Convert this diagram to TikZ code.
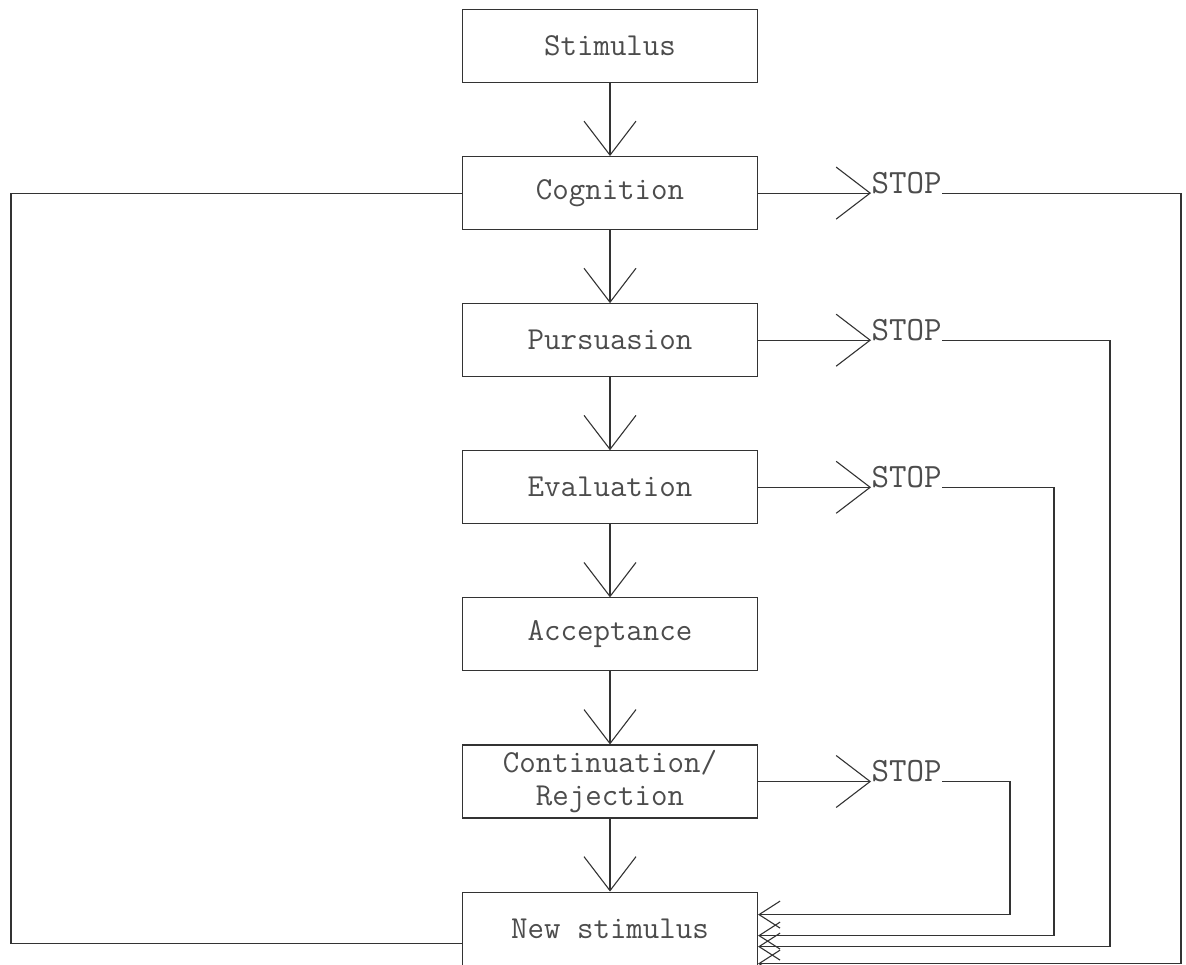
\documentclass[tikz,border=0pt]{standalone}
\usepackage{tikz}
\usetikzlibrary{positioning, arrows.meta}

\begin{document}
\begin{tikzpicture}[x=1pt, y=-1pt, line width=1.1pt, draw=black!80,
		stage/.style={draw, minimum width=295pt, minimum height=73pt, inner sep=1pt, align=center, text=black!70, font=\ttfamily\fontsize{32}{33}\selectfont},
		stoptext/.style={inner sep=0pt, text=black!70, font=\ttfamily\fontsize{34}{36}\selectfont},
		bigbarb/.style={-{Straight Barb[length=34pt, width=52pt, line width=1.1pt]}},
		smallbarb/.style={-{Straight Barb[length=21pt, width=27pt, line width=1.1pt]}},
		node distance=73pt]
			\useasboundingbox (0,0) rectangle (1186,964);
			
			\node[stage] (stim) at (610,46) {Stimulus};
			\node[stage, below=of stim] (cog) {Cognition};
			\node[stage, below=of cog] (purs) {Pursuasion};
			\node[stage, below=of purs] (eval) {Evaluation};
			\node[stage, below=of eval] (acc) {Acceptance};
			\node[stage, below=of acc] (cont) {Continuation/\\Rejection};
			\node[stage, below=of cont] (newst) {New stimulus};
			
			\draw[bigbarb] (stim) -- (cog);
			\draw[bigbarb] (cog) -- (purs);
			\draw[bigbarb] (purs) -- (eval);
			\draw[bigbarb] (eval) -- (acc);
			\draw[bigbarb] (acc) -- (cont);
			\draw[bigbarb] (cont) -- (newst);
			
			\node[stoptext, anchor=base west] (stop1) at ([xshift=113pt]cog.east) {STOP};
			\node[stoptext, anchor=base west] (stop2) at ([xshift=113pt]purs.east) {STOP};
			\node[stoptext, anchor=base west] (stop3) at ([xshift=113pt]eval.east) {STOP};
			\node[stoptext, anchor=base west] (stop4) at ([xshift=113pt]cont.east) {STOP};
			
			\draw[bigbarb] (cog.east) -- (stop1.base west);
			\draw[bigbarb] (purs.east) -- (stop2.base west);
			\draw[bigbarb] (eval.east) -- (stop3.base west);
			\draw[bigbarb] (cont.east) -- (stop4.base west);
			
			\coordinate (r1) at (1181,0);
			\coordinate (r2) at (1110,0);
			\coordinate (r3) at (1054,0);
			\coordinate (r4) at (1010,0);
			\coordinate (in1) at ([yshift=-35pt]newst.east);
			\coordinate (in2) at ([yshift=-18pt]newst.east);
			\coordinate (in3) at ([yshift=-7pt]newst.east);
			\coordinate (in4) at ([yshift=14pt]newst.east);
			
			\draw[smallbarb] (stop1.base east) -| (r1 |- in1) -- (in1);
			\draw[smallbarb] (stop2.base east) -| (r2 |- in2) -- (in2);
			\draw[smallbarb] (stop3.base east) -| (r3 |- in3) -- (in3);
			\draw[smallbarb] (stop4.base east) -| (r4 |- in4) -- (in4);
			
			% feedback from the new stimulus
			\coordinate (l1) at (11,0);
			\coordinate (in5) at ([yshift=-15pt]newst.west);
			\draw (cog.west) -| (l1 |- in5) -- (in5);
		\end{tikzpicture}
\end{document}
